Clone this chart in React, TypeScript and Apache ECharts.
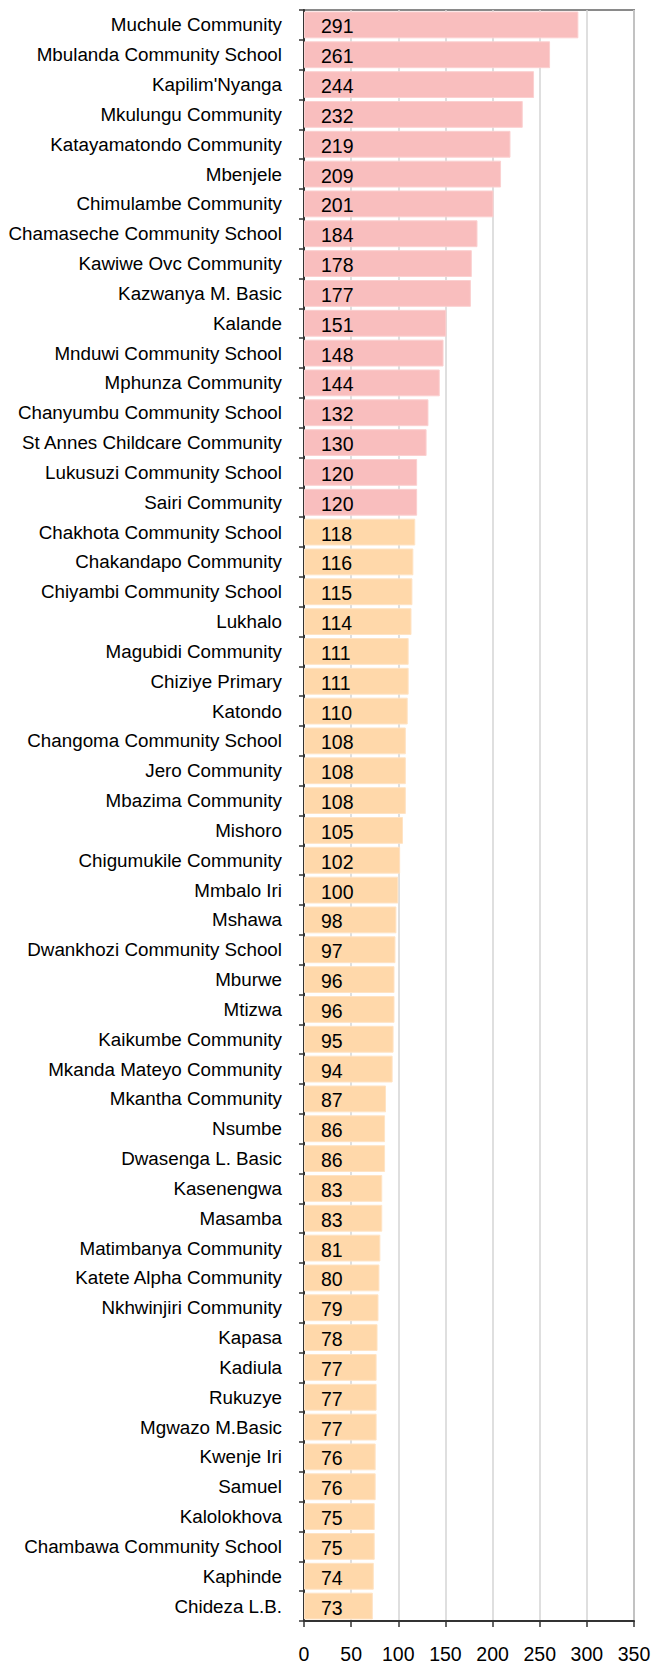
import React, { useEffect, useRef } from "react";
import * as echarts from "echarts";

const categories: string[] = [
  "Muchule Community",
  "Mbulanda Community School",
  "Kapilim'Nyanga",
  "Mkulungu Community",
  "Katayamatondo Community",
  "Mbenjele",
  "Chimulambe Community",
  "Chamaseche Community School",
  "Kawiwe Ovc Community",
  "Kazwanya M. Basic",
  "Kalande",
  "Mnduwi Community School",
  "Mphunza Community",
  "Chanyumbu Community School",
  "St Annes Childcare Community",
  "Lukusuzi Community School",
  "Sairi Community",
  "Chakhota Community School",
  "Chakandapo Community",
  "Chiyambi Community School",
  "Lukhalo",
  "Magubidi Community",
  "Chiziye Primary",
  "Katondo",
  "Changoma Community School",
  "Jero Community",
  "Mbazima Community",
  "Mishoro",
  "Chigumukile Community",
  "Mmbalo Iri",
  "Mshawa",
  "Dwankhozi Community School",
  "Mburwe",
  "Mtizwa",
  "Kaikumbe Community",
  "Mkanda Mateyo Community",
  "Mkantha Community",
  "Nsumbe",
  "Dwasenga L. Basic",
  "Kasenengwa",
  "Masamba",
  "Matimbanya Community",
  "Katete Alpha Community",
  "Nkhwinjiri Community",
  "Kapasa",
  "Kadiula",
  "Rukuzye",
  "Mgwazo M.Basic",
  "Kwenje Iri",
  "Samuel",
  "Kalolokhova",
  "Chambawa Community School",
  "Kaphinde",
  "Chideza L.B.",
];

const values: number[] = [
  291, 261, 244, 232, 219, 209, 201, 184, 178, 177, 151, 148, 144, 132, 130,
  120, 120, 118, 116, 115, 114, 111, 111, 110, 108, 108, 108, 105, 102, 100,
  98, 97, 96, 96, 95, 94, 87, 86, 86, 83, 83, 81, 80, 79, 78, 77, 77, 77, 76,
  76, 75, 75, 74, 73,
];

// 1 = top tier (pink), 0 = other (peach)
const tiers: number[] = [
  1, 1, 1, 1, 1, 1, 1, 1, 1, 1, 1, 1, 1, 1, 1, 1, 1, 0, 0, 0, 0, 0, 0, 0, 0,
  0, 0, 0, 0, 0, 0, 0, 0, 0, 0, 0, 0, 0, 0, 0, 0, 0, 0, 0, 0, 0, 0, 0, 0, 0,
  0, 0, 0, 0,
];

const xTicks: number[] = [0, 50, 100, 150, 200, 250, 300, 350];

const PINK = "#F9BEBE";
const PEACH = "#FFD8AA";
const FONT = "'Liberation Sans', Arial, sans-serif";

export default function App() {
  const ref = useRef<HTMLDivElement>(null);

  useEffect(() => {
    if (!ref.current) return;
    const chart = echarts.init(ref.current, undefined, { renderer: "svg" });
    const data = values.map((v, i) => ({
      value: v,
      itemStyle: {
        color: tiers[i] ? PINK : PEACH,
        borderColor: tiers[i] ? "#FBD0D0" : "#FFE3C4",
        borderWidth: 1,
      },
    }));
    chart.setOption({
      animation: false,
      backgroundColor: "#ffffff",
      grid: {
        left: 304,
        right: 18,
        top: 10,
        bottom: 44,
        containLabel: false,
        outerBoundsMode: "none",
        show: true,
        borderColor: "#8a8a8a",
        borderWidth: 2,
        backgroundColor: "transparent",
      },
      xAxis: {
        type: "value",
        min: xTicks[0],
        max: xTicks[xTicks.length - 1],
        interval: 50,
        axisLine: { show: true, lineStyle: { color: "#333333", width: 2 } },
        axisTick: {
          show: true,
          length: 6,
          lineStyle: { color: "#333333", width: 1.5 },
        },
        axisLabel: {
          margin: 25,
          color: "#000000",
          fontSize: 19.5,
          lineHeight: 15,
          fontFamily: FONT,
          hideOverlap: false,
        },
        splitLine: {
          show: true,
          lineStyle: { color: "#d4d4d4", width: 1.5 },
        },
      },
      yAxis: {
        type: "category",
        inverse: true,
        data: categories,
        axisLine: { show: true, lineStyle: { color: "#333333", width: 2 } },
        axisTick: {
          show: true,
          length: 5,
          lineStyle: { color: "#333333", width: 1.5 },
        },
        axisLabel: {
          margin: 22,
          color: "#000000",
          fontSize: 18.8,
          fontFamily: FONT,
          interval: 0,
        },
      },
      series: [
        {
          type: "bar",
          data,
          barCategoryGap: "10%",
          label: {
            show: true,
            position: "insideLeft",
            distance: 17,
            color: "#000000",
            fontSize: 19.5,
            fontFamily: FONT,
            offset: [0, 1.5],
          },
        },
      ],
    });
    return () => chart.dispose();
  }, []);

  return (
    <div
      ref={ref}
      style={{
        position: "absolute",
        left: 0,
        top: 0,
        width: 652,
        height: 1665,
        background: "#fff",
      }}
    />
  );
}
